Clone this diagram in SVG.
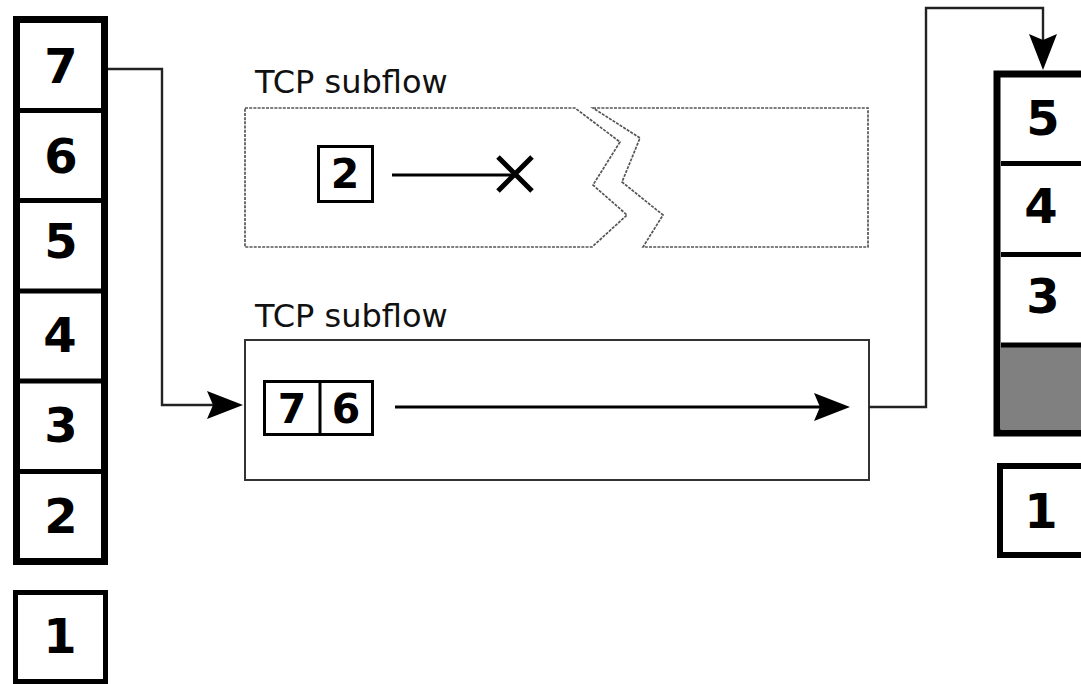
<svg xmlns="http://www.w3.org/2000/svg" width="1081" height="684" viewBox="0 0 1081 684">
  <style>
    .digit { font-family: "DejaVu Sans", Verdana, sans-serif; font-weight: bold; fill: #000; text-anchor: middle; }
    .big { font-size: 48px; }
    .small { font-size: 41px; }
    .label { font-family: "DejaVu Sans", Verdana, sans-serif; font-size: 32px; fill: #111; }
    .queue { fill: #fff; stroke: #000; stroke-width: 7; }
    .divider { stroke: #000; stroke-width: 5; }
    .seg { fill: #fff; stroke: #000; stroke-width: 3; }
    .conn { fill: none; stroke: #222; stroke-width: 2.4; }
    .flow { fill: none; stroke: #000; stroke-width: 3; }
    .broken { fill: #fff; stroke: #555; stroke-width: 1.7; stroke-dasharray: 3 1.2; stroke-linejoin: miter; }
  </style>
  <defs>
    <marker id="head" viewBox="0 0 36 28" refX="26" refY="14" markerWidth="36" markerHeight="28" markerUnits="userSpaceOnUse" orient="auto">
      <path d="M0,0 L36,14 L0,28 L6,14 Z" fill="#000"/>
    </marker>
  </defs>

  <rect width="1081" height="684" fill="#fff"/>

  <!-- sender queue -->
  <g id="sender-queue">
    <rect class="queue" x="16.5" y="19.5" width="88" height="542"/>
    <line class="divider" x1="20" y1="110.5" x2="101" y2="110.5"/>
    <line class="divider" x1="20" y1="200.5" x2="101" y2="200.5"/>
    <line class="divider" x1="20" y1="291" x2="101" y2="291"/>
    <line class="divider" x1="20" y1="381" x2="101" y2="381"/>
    <line class="divider" x1="20" y1="471.5" x2="101" y2="471.5"/>
    <text class="digit big" x="61" y="83">7</text>
    <text class="digit big" x="61" y="173">6</text>
    <text class="digit big" x="61" y="258">5</text>
    <text class="digit big" x="60" y="352">4</text>
    <text class="digit big" x="61" y="442">3</text>
    <text class="digit big" x="61" y="533">2</text>
  </g>

  <g id="sender-seg-1">
    <rect x="15.5" y="592.5" width="90" height="89" fill="#fff" stroke="#000" stroke-width="5"/>
    <text class="digit big" x="60" y="653">1</text>
  </g>

  <!-- failed subflow -->
  <g id="subflow-lost">
    <text class="label" x="255" y="93">TCP subflow</text>
    <path class="broken" d="M245 108 H575 L620 142 L593 185 L627 215 L592 247 H245 Z"/>
    <path class="broken" d="M593 108 H868 V247 H643 L663 215 L622 182 L640 138 Z"/>
    <rect class="seg" x="318.5" y="146.5" width="54" height="55"/>
    <text class="digit small" x="345" y="188">2</text>
    <line class="flow" x1="392" y1="175" x2="515" y2="175"/>
    <path d="M498 157 L532 191 M498 191 L532 157" stroke="#000" stroke-width="5" fill="none"/>
  </g>

  <!-- working subflow -->
  <g id="subflow-active">
    <text class="label" x="255" y="327">TCP subflow</text>
    <rect x="245" y="340" width="624" height="140" fill="#fff" stroke="#333" stroke-width="2"/>
    <rect class="seg" x="264.5" y="381.5" width="108" height="53"/>
    <line x1="320" y1="381.5" x2="320" y2="434.5" stroke="#000" stroke-width="3"/>
    <text class="digit small" x="292" y="423">7</text>
    <text class="digit small" x="346" y="423">6</text>
    <line class="flow" x1="395" y1="407" x2="840" y2="407" marker-end="url(#head)"/>
  </g>

  <!-- receiver queue -->
  <g id="receiver-queue">
    <rect class="queue" x="997" y="74" width="120" height="359" stroke-width="8"/>
    <rect x="1001" y="347" width="100" height="82" fill="#808080"/>
    <line class="divider" x1="1001" y1="163.5" x2="1081" y2="163.5" stroke-width="6"/>
    <line class="divider" x1="1001" y1="254.5" x2="1081" y2="254.5" stroke-width="6"/>
    <line class="divider" x1="1001" y1="345" x2="1081" y2="345" stroke-width="6"/>
    <text class="digit big" x="1043" y="135">5</text>
    <text class="digit big" x="1041" y="223">4</text>
    <text class="digit big" x="1043" y="313">3</text>
  </g>

  <g id="receiver-seg-1">
    <rect x="1000" y="466" width="120" height="89" fill="#fff" stroke="#000" stroke-width="6"/>
    <text class="digit big" x="1041" y="528">1</text>
  </g>

  <!-- connectors -->
  <g id="connectors">
    <path class="conn" d="M108 69 H162 V405 H233" marker-end="url(#head)"/>
    <path class="conn" d="M869 407 H926 V8 H1043 V60" marker-end="url(#head)"/>
  </g>
</svg>
